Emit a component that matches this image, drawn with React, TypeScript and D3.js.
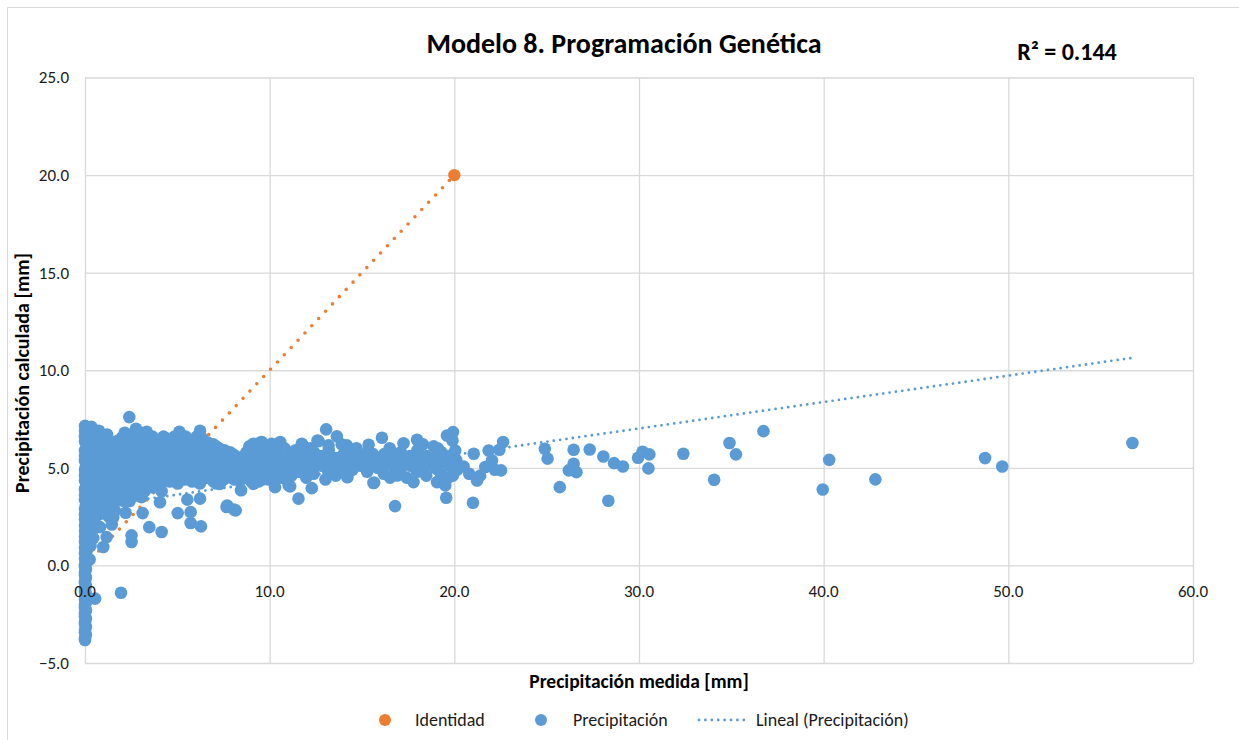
import React, { useEffect, useRef } from 'react';
import * as d3 from 'd3';

// axis ticks
const xTicks = [0, 10, 20, 30, 40, 50, 60];
const yTicks = [-5, 0, 5, 10, 15, 20, 25];

// serie "Identidad"
const identityX = [0, 20];
const identityY = [0, 20];

// linea de tendencia
const trendSlope = 0.1355;
const trendIntercept = 2.95;
const trendMaxX = 56.72;
const r2Label = 'R² = 0.144';

// puntos en x ~ 0
const stripPts: [number, number][] = [
  [0, -3.82], [0, -3.7], [0.05, -3.55], [0, -3.42], [0, -3.3], [0.05, -3.15], [0, -3.0], [0, -2.88],
  [0.05, -2.72], [0, -2.6], [0, -2.45], [0.05, -2.3], [0, -2.18], [0, -2.02], [0.05, -1.9], [0, -1.75],
  [0, -1.6], [0.05, -1.48], [0, -1.32], [0, -1.2], [0.05, -1.05], [0, -0.9], [0, -0.78], [0.05, -0.62],
  [0, -0.5], [0, -0.35], [0.05, -0.2], [0, -0.08], [0, 0.05], [0.1, 0.2], [0, 0.35], [0.05, 0.48],
  [0, 0.62], [0.1, 0.78], [0, 0.9], [0.05, 1.05], [0, 1.2], [0.15, 1.35], [0, 1.48], [0.05, 1.62],
  [0, 1.78], [0.1, 1.9], [0, 2.05], [0.2, 2.2], [0, 2.35], [0.05, 2.48], [0, 2.62], [0.15, 2.78],
  [0, 2.9], [0.05, 3.05], [0.25, 3.2], [0, 3.35], [0.1, 3.48], [0, 3.62], [0.2, 3.78], [0, 3.9],
  [0.05, 4.05], [0.3, 4.2], [0, 4.35], [0.1, 4.48], [0, 4.62], [0.25, 4.78], [0, 4.9], [0.05, 5.05],
  [0.3, 5.2], [0, 5.35], [0.15, 5.48], [0, 5.62], [0.35, 5.78], [0, 5.9], [0.1, 6.05], [0.3, 6.2],
  [0, 6.35], [0.2, 6.48], [0, 6.62], [0.1, 6.78], [0, 6.9], [0.05, 7.05], [0, 7.15], [0.35, 7.1],
  [0.25, 0.3], [0.3, 1.0], [0.35, 1.7], [0.4, 2.6], [0.55, -1.7], [1.95, -1.4],
];

// nube densa 0 - 10 mm
const nearPts: [number, number][] = [
  [0.3, 6.5], [0.35, 5.9], [0.28, 5.2], [0.4, 4.6], [0.32, 3.9], [0.3, 3.1], [0.38, 2.4],
  [0.6, 6.2], [0.66, 5.6], [0.62, 4.9], [0.7, 4.2], [0.6, 3.5], [0.65, 2.9],
  [0.9, 6.6], [0.95, 5.8], [0.88, 5.1], [0.92, 4.4], [0.97, 3.7],
  [1.2, 6.7], [1.25, 6.0], [1.18, 5.3], [1.3, 4.7], [1.22, 4.0], [1.28, 2.5],
  [1.5, 6.3], [1.55, 5.6], [1.48, 4.9], [1.6, 4.3], [1.52, 3.6], [1.45, 2.1],
  [1.8, 6.4], [1.85, 5.7], [1.78, 5.0], [1.9, 4.4], [1.82, 3.8],
  [2.0, 6.55], [2.05, 5.9], [2.1, 5.3], [1.98, 4.6], [2.12, 3.3], [2.2, 2.7],
  [2.3, 6.2], [2.35, 5.5], [2.28, 4.9], [2.4, 4.2], [2.33, 3.6],
  [2.6, 6.4], [2.65, 5.8], [2.58, 5.1], [2.7, 4.5], [2.62, 3.9],
  [2.9, 6.1], [2.95, 5.4], [2.88, 4.8], [3.0, 4.1],
  [3.2, 6.5], [3.25, 5.9], [3.18, 5.2], [3.3, 4.6], [3.22, 3.8],
  [3.5, 6.2], [3.55, 5.6], [3.48, 5.0], [3.6, 4.4],
  [3.8, 6.4], [3.85, 5.8], [3.78, 5.3], [3.9, 4.7], [3.82, 4.1],
  [4.1, 6.1], [4.15, 5.5], [4.08, 4.9], [4.2, 4.3],
  [4.4, 6.5], [4.45, 5.9], [4.38, 5.2], [4.5, 4.6],
  [4.7, 6.2], [4.75, 5.6], [4.68, 5.0], [4.8, 4.4],
  [5.0, 6.3], [5.05, 5.8], [4.98, 5.3], [5.1, 4.7], [5.02, 4.2],
  [5.3, 6.1], [5.35, 5.5], [5.28, 4.9], [5.4, 4.4],
  [5.6, 6.4], [5.65, 5.9], [5.58, 5.2], [5.7, 4.6],
  [5.9, 6.2], [5.95, 5.7], [5.88, 5.1], [6.0, 4.5],
  [6.2, 6.3], [6.25, 5.8], [6.18, 5.3], [6.3, 4.7], [6.22, 4.2],
  [6.5, 6.1], [6.55, 5.6], [6.48, 5.0], [6.6, 4.5],
  [6.8, 6.0], [6.85, 5.5], [6.78, 4.9], [6.9, 4.4],
  [7.1, 6.1], [7.15, 5.7], [7.08, 5.1], [7.2, 4.6], [7.12, 4.2],
  [7.4, 5.9], [7.45, 5.4], [7.38, 4.9], [7.5, 4.4],
  [7.7, 5.8], [7.75, 5.2], [7.68, 4.7],
  [8.0, 5.7], [8.05, 5.3], [7.98, 4.8], [8.1, 4.4],
  [8.3, 5.5], [8.35, 5.0], [8.28, 4.6],
  [8.6, 5.6], [8.65, 5.1], [8.58, 4.5],
  [8.9, 6.1], [8.95, 5.4], [8.88, 4.8], [9.0, 4.3],
  [9.2, 6.2], [9.25, 5.7], [9.18, 5.1], [9.3, 4.6],
  [9.5, 6.3], [9.55, 5.5], [9.48, 4.9], [9.6, 4.4],
  [9.8, 6.0], [9.85, 5.3], [9.78, 4.7],
  [0.45, 6.85], [0.47, 6.2], [0.44, 5.55], [0.48, 4.9], [0.45, 4.25], [0.5, 3.6], [0.46, 2.9], [0.5, 2.1], [0.45, 1.4],
  [0.75, 6.9], [0.78, 5.3], [0.74, 4.55], [0.8, 3.85], [0.76, 3.2], [0.72, 2.6],
  [1.05, 6.3], [1.08, 5.45], [1.04, 4.8], [1.1, 4.15], [1.06, 3.4], [1.02, 2.8],
  [1.35, 6.35], [1.38, 5.6], [1.34, 4.95], [1.4, 4.4], [1.36, 3.7], [1.32, 3.1],
  [1.65, 6.0], [1.68, 5.3], [1.64, 4.65], [1.7, 4.0], [1.66, 3.3], [1.62, 2.8],
  [1.95, 6.2], [1.98, 5.6], [1.94, 4.9], [2.0, 4.0], [1.96, 3.6],
  [2.15, 6.8], [2.18, 4.3], [2.14, 3.9],
  [2.45, 6.6], [2.48, 5.8], [2.44, 5.2], [2.5, 4.6], [2.46, 3.9], [2.42, 3.3],
  [2.75, 6.2], [2.78, 5.5], [2.74, 4.8], [2.8, 4.2], [2.76, 3.6],
  [3.05, 6.8], [3.08, 5.7], [3.04, 5.0], [3.1, 4.4], [3.06, 3.5],
  [3.35, 6.1], [3.38, 5.5], [3.34, 4.9], [3.4, 4.2],
  [3.65, 6.6], [3.68, 5.9], [3.64, 5.3], [3.7, 4.7], [3.66, 4.0],
  [3.95, 6.2], [3.98, 5.6], [3.94, 5.0], [4.0, 4.4],
  [4.25, 6.6], [4.28, 5.8], [4.24, 5.2], [4.3, 4.6],
  [4.55, 6.3], [4.58, 5.6], [4.54, 5.0], [4.6, 4.3],
  [4.85, 6.6], [4.88, 5.9], [4.84, 5.3], [4.9, 4.6],
  [5.15, 6.4], [5.18, 5.6], [5.14, 5.0], [5.2, 4.4],
  [5.45, 6.6], [5.48, 5.9], [5.44, 5.3], [5.5, 4.6],
  [5.75, 6.3], [5.78, 5.6], [5.74, 4.9], [5.8, 4.3],
  [6.05, 6.6], [6.08, 5.9], [6.04, 5.4], [6.1, 4.8],
  [6.35, 6.5], [6.38, 6.0], [6.34, 5.5], [6.4, 4.9], [6.36, 4.4],
  [6.65, 6.3], [6.68, 5.8], [6.64, 5.3], [6.7, 4.7],
  [6.95, 6.2], [6.98, 5.7], [6.94, 5.2], [7.0, 4.7], [6.96, 4.3],
  [7.25, 6.0], [7.28, 5.5], [7.24, 5.0], [7.3, 4.5],
  [7.55, 5.9], [7.58, 5.5], [7.54, 5.0], [7.6, 4.5],
  [7.85, 5.8], [7.88, 5.4], [7.84, 4.9], [7.9, 4.5],
  [8.15, 5.6], [8.18, 5.1], [8.14, 4.6],
  [8.45, 5.3], [8.48, 4.8], [8.44, 4.4],
  [8.75, 5.8], [8.78, 5.3], [8.74, 4.8],
  [9.05, 5.8], [9.08, 5.3], [9.04, 4.6],
  [9.35, 6.0], [9.38, 5.4], [9.34, 4.8], [9.4, 4.3],
  [9.65, 5.9], [9.68, 5.2], [9.64, 4.6],
  [9.95, 5.8], [9.98, 5.0], [9.94, 4.4],
  [2.4, 7.6], [2.76, 7.0], [3.34, 6.85], [5.11, 6.85], [6.23, 6.9], [1.18, 6.68], [7.67, 2.99],
  [8.07, 2.86], [8.45, 3.85], [5.54, 3.37], [6.23, 3.42], [5.02, 2.68], [5.72, 2.73], [5.72, 2.17],
  [6.28, 2.0], [3.48, 1.96], [4.15, 1.71], [2.52, 1.54], [2.52, 1.2], [3.12, 2.68], [4.06, 3.24],
  [4.15, 3.8], [1.17, 1.45], [0.99, 0.94], [1.53, 2.47], [2.07, 3.33], [0.54, 3.33], [0.81, 1.96],
  [9.12, 6.23], [9.57, 6.32], [9.12, 4.18], [7.31, 4.18], [7.7, 3.07], [8.16, 2.82],
];

// nube 10 - 23 mm
const midPts: [number, number][] = [
  [10.11, 6.23], [10.29, 4.01], [11.03, 4.1], [10.57, 6.32], [11.74, 6.23], [12.59, 6.4], [11.11, 4.05],
  [11.56, 3.42], [12.28, 3.96], [14.21, 4.52], [15.62, 4.22], [16.08, 6.54], [16.35, 5.38], [16.79, 3.04],
  [16.9, 4.61], [17.25, 6.26], [17.98, 6.44], [18.88, 6.1], [19.6, 6.66], [19.93, 6.83], [19.56, 3.47],
  [17.79, 4.27], [19.06, 4.27], [19.51, 4.1], [20.05, 5.89], [13.06, 6.97], [13.64, 6.61], [11.8, 6.15],
  [12.65, 6.37], [13.19, 6.15], [14.18, 6.15], [15.36, 6.18], [15.66, 4.24],
  [10.4, 5.8], [10.45, 5.2], [10.38, 4.7],
  [10.8, 6.0], [10.85, 5.4], [10.78, 4.9], [10.9, 4.4],
  [11.2, 5.6], [11.25, 5.1], [11.18, 4.6],
  [11.6, 5.9], [11.65, 5.3], [11.58, 4.8],
  [12.0, 5.5], [12.05, 5.0], [11.98, 4.5],
  [12.4, 5.8], [12.45, 5.2], [12.38, 4.7],
  [12.8, 5.6], [12.85, 5.1],
  [13.2, 5.9], [13.25, 5.3], [13.18, 4.8],
  [13.6, 5.5], [13.65, 5.0], [13.58, 4.6],
  [14.0, 5.7], [14.05, 5.2],
  [14.5, 5.9], [14.55, 5.4], [14.48, 4.9],
  [14.9, 5.6], [14.95, 5.1],
  [15.3, 5.8], [15.35, 5.3], [15.28, 4.8],
  [15.8, 5.5], [15.85, 5.0],
  [16.2, 5.7], [16.25, 5.2], [16.18, 4.7],
  [16.7, 5.5], [16.75, 5.0],
  [17.1, 5.8], [17.15, 5.3], [17.08, 4.9],
  [17.6, 5.6], [17.65, 5.1],
  [18.0, 5.9], [18.05, 5.4], [17.98, 4.8],
  [18.5, 5.6], [18.55, 5.2], [18.48, 4.6],
  [18.9, 5.5], [18.95, 5.0],
  [19.3, 5.8], [19.35, 5.3], [19.28, 4.7],
  [19.7, 5.6], [19.75, 5.1], [19.68, 4.5],
  [20.1, 5.4], [20.15, 4.9],
  [10.2, 5.5], [10.22, 4.9], [10.6, 6.1], [10.62, 5.0], [10.64, 4.5], [11.4, 5.9], [11.42, 4.9],
  [12.2, 6.0], [12.22, 4.8], [13.0, 5.4], [13.02, 4.4], [13.9, 6.2], [13.92, 4.9], [14.7, 6.0],
  [15.6, 5.7], [15.62, 5.2], [16.5, 6.0], [16.52, 4.5], [17.4, 5.5], [17.42, 4.5], [18.3, 6.2],
  [18.32, 5.0], [19.1, 6.0], [19.12, 4.9], [19.9, 6.4], [19.92, 4.6],
  [20.5, 5.07], [21.05, 5.72], [21.01, 3.21], [21.86, 5.89], [22.44, 5.93], [22.64, 6.32], [22.04, 5.38],
  [22.53, 4.87], [21.23, 4.35], [21.68, 5.04], [21.4, 4.6], [22.2, 4.9], [20.8, 4.7],
];

// puntos dispersos > 23 mm
const farPts: [number, number][] = [
  [24.9, 5.98], [25.05, 5.47], [26.46, 5.93], [26.46, 5.21], [26.2, 4.87], [26.61, 4.78], [25.71, 4.01],
  [27.33, 5.94], [28.07, 5.58], [28.65, 5.24], [29.13, 5.07], [28.34, 3.31], [29.95, 5.52], [30.19, 5.82],
  [30.56, 5.69], [30.51, 4.97], [32.4, 5.72], [34.07, 4.39], [34.9, 6.27], [35.25, 5.69], [36.74, 6.88],
  [39.95, 3.89], [40.3, 5.41], [42.8, 4.41], [48.74, 5.5], [49.67, 5.07], [56.72, 6.27],
];

const BLUE = '#5B9BD5';
const ORANGE = '#ED7D31';
const GRID = '#d9d9d9';
const FONT = 'Carlito, Lato, sans-serif';

function App() {
  const svgRef = useRef<SVGSVGElement>(null);

  useEffect(() => {
    const svg = d3.select(svgRef.current);
    svg.selectAll('*').remove();

    const width = 1239,
      height = 740;
    const plot = { left: 85, right: 1193, top: 77.5, bottom: 663 };

    const x = d3.scaleLinear().domain([0, 60]).range([plot.left, plot.right]);
    const y = d3.scaleLinear().domain([-5, 25]).range([plot.bottom, plot.top]);

    svg.append('rect').attr('width', width).attr('height', height).attr('fill', '#fff');
    // borde del area de grafico
    svg
      .append('path')
      .attr('d', `M7.5,${height} V7.5 H${width}`)
      .attr('fill', 'none')
      .attr('stroke', GRID);

    // grid
    const grid = svg.append('g');
    grid
      .selectAll('line.v')
      .data(xTicks)
      .enter()
      .append('line')
      .attr('x1', (d) => x(d) + 0.5)
      .attr('x2', (d) => x(d) + 0.5)
      .attr('y1', plot.top)
      .attr('y2', plot.bottom)
      .attr('stroke', GRID)
      .attr('stroke-width', 1.3);
    grid
      .selectAll('line.h')
      .data(yTicks)
      .enter()
      .append('line')
      .attr('x1', plot.left)
      .attr('x2', plot.right)
      .attr('y1', (d) => y(d) + 0.5)
      .attr('y2', (d) => y(d) + 0.5)
      .attr('stroke', GRID)
      .attr('stroke-width', 1.3);

    // identidad
    svg
      .append('line')
      .attr('x1', x(identityX[0]))
      .attr('y1', y(identityY[0]))
      .attr('x2', x(identityX[1]))
      .attr('y2', y(identityY[1]))
      .attr('stroke', ORANGE)
      .attr('stroke-width', 3.6)
      .attr('stroke-linecap', 'round')
      .attr('stroke-dasharray', '0 10');
    svg
      .append('g')
      .selectAll('circle')
      .data(identityX.map((v, i) => [v, identityY[i]]))
      .enter()
      .append('circle')
      .attr('cx', (d) => x(d[0]))
      .attr('cy', (d) => y(d[1]))
      .attr('r', 6.2)
      .attr('fill', ORANGE);

    // tendencia lineal
    svg
      .append('line')
      .attr('x1', x(0))
      .attr('y1', y(trendIntercept))
      .attr('x2', x(trendMaxX))
      .attr('y2', y(trendIntercept + trendSlope * trendMaxX))
      .attr('stroke', BLUE)
      .attr('stroke-width', 2.8)
      .attr('stroke-linecap', 'round')
      .attr('stroke-dasharray', '0 6.4');

    // precipitacion
    const pts = [...stripPts, ...nearPts, ...midPts, ...farPts];
    svg
      .append('g')
      .selectAll('circle')
      .data(pts)
      .enter()
      .append('circle')
      .attr('cx', (d) => x(d[0]))
      .attr('cy', (d) => y(d[1]))
      .attr('r', 6.3)
      .attr('fill', BLUE);

    // etiquetas de ejes
    svg
      .append('g')
      .selectAll('text')
      .data(yTicks)
      .enter()
      .append('text')
      .attr('x', 69)
      .attr('y', (d) => y(d))
      .attr('dy', '0.35em')
      .attr('text-anchor', 'end')
      .attr('font-family', FONT)
      .attr('font-size', 17)
      .attr('fill', '#1a1a1a')
      .text((d) => d3.format('.1f')(d));
    svg
      .append('g')
      .selectAll('text')
      .data(xTicks)
      .enter()
      .append('text')
      .attr('x', (d) => x(d))
      .attr('y', y(0) + 26)
      .attr('dy', '0.35em')
      .attr('text-anchor', 'middle')
      .attr('font-family', FONT)
      .attr('font-size', 17)
      .attr('fill', '#1a1a1a')
      .text((d) => d3.format('.1f')(d));

    // titulos
    svg
      .append('text')
      .attr('x', 624)
      .attr('y', 43)
      .attr('dy', '0.35em')
      .attr('text-anchor', 'middle')
      .attr('font-family', FONT)
      .attr('font-weight', 'bold')
      .attr('font-size', 28)
      .attr('fill', '#000')
      .text('Modelo 8. Programación Genética');
    svg
      .append('text')
      .attr('x', 1067)
      .attr('y', 52)
      .attr('dy', '0.35em')
      .attr('text-anchor', 'middle')
      .attr('font-family', FONT)
      .attr('font-weight', 'bold')
      .attr('font-size', 24)
      .attr('fill', '#000')
      .text(r2Label);
    svg
      .append('text')
      .attr('x', 639)
      .attr('y', 681)
      .attr('dy', '0.35em')
      .attr('text-anchor', 'middle')
      .attr('font-family', FONT)
      .attr('font-weight', 'bold')
      .attr('font-size', 19.5)
      .attr('fill', '#000')
      .text('Precipitación medida [mm]');
    svg
      .append('text')
      .attr('transform', `translate(22, 373) rotate(-90)`)
      .attr('dy', '0.35em')
      .attr('text-anchor', 'middle')
      .attr('font-family', FONT)
      .attr('font-weight', 'bold')
      .attr('font-size', 20)
      .attr('fill', '#000')
      .text('Precipitación calculada [mm]');

    // leyenda
    const legend = svg.append('g').attr('font-family', FONT).attr('font-size', 18).attr('fill', '#1a1a1a');
    const ly = 720;
    legend.append('circle').attr('cx', 385).attr('cy', ly).attr('r', 6).attr('fill', ORANGE);
    legend.append('text').attr('x', 415).attr('y', ly).attr('dy', '0.35em').text('Identidad');
    legend.append('circle').attr('cx', 541).attr('cy', ly).attr('r', 6).attr('fill', BLUE);
    legend.append('text').attr('x', 573).attr('y', ly).attr('dy', '0.35em').text('Precipitación');
    legend
      .append('line')
      .attr('x1', 699)
      .attr('x2', 745)
      .attr('y1', ly)
      .attr('y2', ly)
      .attr('stroke', BLUE)
      .attr('stroke-width', 2.8)
      .attr('stroke-linecap', 'round')
      .attr('stroke-dasharray', '0 6.4');
    legend.append('text').attr('x', 756).attr('y', ly).attr('dy', '0.35em').text('Lineal (Precipitación)');
  }, []);

  return (
    <svg
      ref={svgRef}
      width={1239}
      height={740}
      style={{ position: 'absolute', left: 0, top: 0, display: 'block' }}
    />
  );
}

export default App;
